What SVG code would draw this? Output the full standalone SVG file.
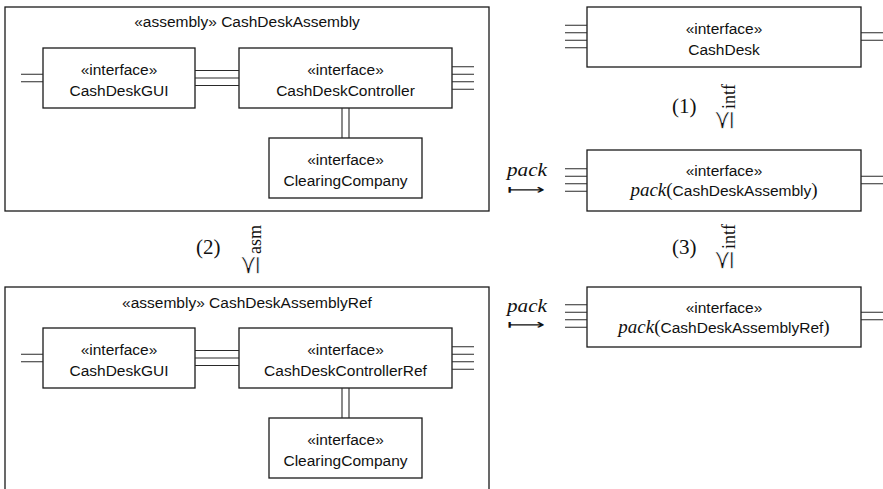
<svg xmlns="http://www.w3.org/2000/svg" width="883" height="489" viewBox="0 0 883 489">
<style>
.bg{fill:#fff}
.box{fill:#fff;stroke:#1a1a1a;stroke-width:1.3}
.port{stroke:#2a2a2a;stroke-width:1.1;fill:none}
.t{font-family:"Liberation Sans",Arial,Helvetica,sans-serif;font-size:15.5px;fill:#111;text-anchor:middle}
.m{font-family:"Liberation Serif","Times New Roman",serif;fill:#111}
.mi{font-family:"Liberation Serif","Times New Roman",serif;font-style:italic;fill:#111}
.sym{font-family:"DejaVu Sans",sans-serif;fill:#111}
.thin{stroke:#fff;stroke-width:0.7}
</style>
<rect class="bg" x="0" y="0" width="883" height="489"/>

<g id="asm1">
  <rect class="box" x="5" y="7" width="484" height="204"/>
  <text class="t" x="247" y="27">«assembly» CashDeskAssembly</text>
</g>
<g id="gui1">
  <rect class="box" x="43" y="48" width="152" height="60"/>
  <text class="t" x="119" y="74.5">«interface»</text>
  <text class="t" x="119" y="96">CashDeskGUI</text>
</g>
<g id="ctrl1">
  <rect class="box" x="239" y="48" width="213" height="60"/>
  <text class="t" x="345.5" y="74.5">«interface»</text>
  <text class="t" x="345.5" y="96">CashDeskController</text>
</g>
<g id="cc1">
  <rect class="box" x="269" y="138" width="153" height="60"/>
  <text class="t" x="345.5" y="164.5">«interface»</text>
  <text class="t" x="345.5" y="186">ClearingCompany</text>
</g>

<g id="asm2">
  <rect class="box" x="5" y="287" width="484" height="206"/>
  <text class="t" x="247" y="307.5">«assembly» CashDeskAssemblyRef</text>
</g>
<g id="gui2">
  <rect class="box" x="43" y="328" width="152" height="60"/>
  <text class="t" x="119" y="354.5">«interface»</text>
  <text class="t" x="119" y="376">CashDeskGUI</text>
</g>
<g id="ctrl2">
  <rect class="box" x="239" y="328" width="213" height="60"/>
  <text class="t" x="345.5" y="354.5">«interface»</text>
  <text class="t" x="345.5" y="376">CashDeskControllerRef</text>
</g>
<g id="cc2">
  <rect class="box" x="269" y="418" width="153" height="60"/>
  <text class="t" x="345.5" y="444.5">«interface»</text>
  <text class="t" x="345.5" y="466">ClearingCompany</text>
</g>

<g id="cashdesk">
  <rect class="box" x="587" y="7" width="274" height="60"/>
  <text class="t" x="724" y="33.5">«interface»</text>
  <text class="t" x="724" y="54.5">CashDesk</text>
</g>
<g id="pack1">
  <rect class="box" x="587" y="150" width="274" height="61"/>
  <text class="t" x="724" y="176">«interface»</text>
  <text class="t" x="724" y="196"><tspan class="mi" font-size="19">pack</tspan><tspan class="m" font-size="19">(</tspan>CashDeskAssembly<tspan class="m" font-size="19">)</tspan></text>
</g>
<g id="pack2">
  <rect class="box" x="587" y="287" width="274" height="60"/>
  <text class="t" x="724" y="312.5">«interface»</text>
  <text class="t" x="724" y="333"><tspan class="mi" font-size="19">pack</tspan><tspan class="m" font-size="19">(</tspan>CashDeskAssemblyRef<tspan class="m" font-size="19">)</tspan></text>
</g>

<g id="labels">
  <text class="m" font-size="21" x="672" y="112.5">(1)</text>
  <g transform="translate(732,131) rotate(-90)">
    <text class="sym thin" font-size="26" x="0" y="0">⪯</text>
    <text class="m" font-size="18" x="22" y="2.5">intf</text>
  </g>
  <text class="m" font-size="21" x="672" y="254">(3)</text>
  <g transform="translate(732,271) rotate(-90)">
    <text class="sym thin" font-size="26" x="0" y="0">⪯</text>
    <text class="m" font-size="18" x="22" y="2.5">intf</text>
  </g>
  <text class="m" font-size="21" x="196" y="254">(2)</text>
  <g transform="translate(258,276) rotate(-90)">
    <text class="sym thin" font-size="26" x="0" y="0">⪯</text>
    <text class="m" font-size="18" x="22" y="2.5">asm</text>
  </g>
  <text class="mi" font-size="19" x="507" y="176" textLength="40" lengthAdjust="spacingAndGlyphs">pack</text>
  <text class="sym" font-size="14" x="507" y="194" textLength="38" lengthAdjust="spacingAndGlyphs">⟼</text>
  <text class="mi" font-size="19" x="507" y="312" textLength="40" lengthAdjust="spacingAndGlyphs">pack</text>
  <text class="sym" font-size="14" x="507" y="329" textLength="38" lengthAdjust="spacingAndGlyphs">⟼</text>
</g>

<g id="connectors" class="port">
  <path d="M21 74.25H43M21 81.75H43"/>
  <path d="M195 70.5H239M195 78H239M195 85.5H239"/>
  <path d="M452 66.75H474M452 74.25H474M452 81.75H474M452 89.25H474"/>
  <path d="M342 108V138M349 108V138"/>
  <path d="M21 354.25H43M21 361.75H43"/>
  <path d="M195 350.5H239M195 358H239M195 365.5H239"/>
  <path d="M452 346.75H474M452 354.25H474M452 361.75H474M452 369.25H474"/>
  <path d="M342 388V418M349 388V418"/>
  <path d="M565 25.25H587M565 32.75H587M565 40.25H587M565 47.75H587"/>
  <path d="M861 32.75H883M861 40.25H883"/>
  <path d="M565 168.75H587M565 176.25H587M565 183.75H587M565 191.25H587"/>
  <path d="M861 176.25H883M861 183.75H883"/>
  <path d="M565 304.75H587M565 312.25H587M565 319.75H587M565 327.25H587"/>
  <path d="M861 312.25H883M861 319.75H883"/>
</g>
</svg>
